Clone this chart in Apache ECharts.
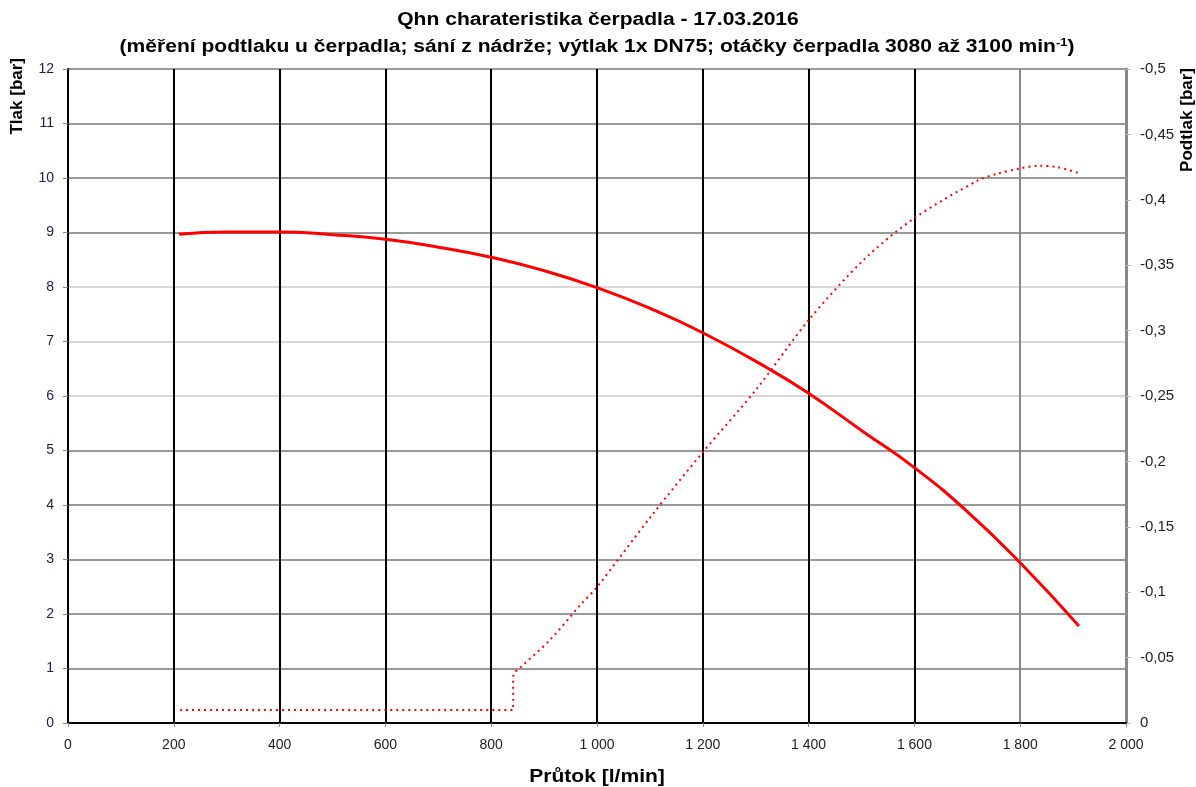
<!DOCTYPE html>
<html>
<head>
<meta charset="utf-8">
<script src="https://cdn.jsdelivr.net/npm/echarts@6/dist/echarts.min.js"></script>
<style>
  html, body { margin: 0; padding: 0; background: #fff; }
  #chart { width: 1196px; height: 787px; }
</style>
</head>
<body>
<div id="chart"></div>
<script>
// Tlak (solid) - flow [l/min] and pressure [bar]
var tlakFlow = [210, 300, 400, 500, 600, 700, 800, 900, 1000, 1100, 1200, 1323, 1400, 1504, 1600, 1700, 1800, 1911];
var tlakValues = [8.97, 9.01, 9.01, 8.96, 8.875, 8.73, 8.545, 8.30, 7.99, 7.61, 7.16, 6.51, 6.05, 5.34, 4.685, 3.88, 2.94, 1.78];

// Podtlak (dotted) - flow [l/min] and underpressure [bar]
var podtlakFlow = [212, 841, 842, 857, 911, 968, 1000, 1106, 1200, 1301, 1400, 1504, 1600, 1721, 1757, 1800, 1835, 1870, 1914];
var podtlakValues = [-0.0099, -0.0099, -0.0367, -0.043, -0.0635, -0.090, -0.104, -0.160, -0.207, -0.255, -0.308, -0.354, -0.386, -0.415, -0.420, -0.424, -0.426, -0.425, -0.420];

// split line colours (light bands at 6, 7, 8 bar like the original)
var hLineColors = ['#999', '#999', '#999', '#999', '#999', '#999', '#d8d8d8', '#d8d8d8', '#d8d8d8', '#999', '#999', '#999', '#999'];
var vLineColors = ['#000', '#000', '#000', '#000', '#000', '#000', '#000', '#000', '#000', '#888', '#888'];

var titleLine1 = 'Qhn charateristika čerpadla - 17.03.2016';
var titleLine2 = '(měření podtlaku u čerpadla; sání z nádrže; výtlak 1x DN75; otáčky čerpadla 3080 až 3100 min';

function zip(xs, ys) {
    var out = [];
    for (var i = 0; i < xs.length; i++) out.push([xs[i], ys[i]]);
    return out;
}

var font = '"Liberation Sans", Arial, sans-serif';
var myChart = echarts.init(document.getElementById('chart'));
var option = {
    backgroundColor: '#fff',
    animation: false,
    grid: { left: 68, right: 70, top: 69, bottom: 64 },
    xAxis: {
        type: 'value',
        min: 0, max: 2000, interval: 200,
        axisLine: { lineStyle: { color: '#000', width: 2 } },
        axisTick: { show: true, length: 4, lineStyle: { color: '#888' } },
        axisLabel: {
            fontFamily: font, fontSize: 14, color: '#222', margin: 15,
            formatter: function (v) { return String(v).replace(/\B(?=(\d{3})+(?!\d))/g, ' '); }
        },
        splitLine: { show: true, lineStyle: { color: vLineColors, width: 2 } }
    },
    yAxis: [
        {
            type: 'value',
            min: 0, max: 12, interval: 1,
            axisLine: { show: true, lineStyle: { color: '#000', width: 2 } },
            axisTick: { show: true, length: 5, lineStyle: { color: '#888' } },
            axisLabel: { fontFamily: font, fontSize: 14, color: '#1c1c48', margin: 14 },
            splitLine: { show: true, lineStyle: { color: hLineColors, width: 2 } }
        },
        {
            type: 'value',
            min: -0.5, max: 0, interval: 0.05,
            inverse: true,
            position: 'right',
            axisLine: { show: true, lineStyle: { color: '#888', width: 3 } },
            axisTick: { show: true, length: 5, lineStyle: { color: '#bbb' } },
            axisLabel: {
                fontFamily: font, fontSize: 15, color: '#222', margin: 14,
                formatter: function (v) {
                    var r = Math.round(v * 100) / 100;
                    return r === 0 ? '0' : String(r).replace('.', ',');
                }
            },
            splitLine: { show: false }
        }
    ],
    graphic: [
        {
            type: 'text', x: 598, y: 20, scaleX: 1.17,
            style: {
                text: titleLine1, textAlign: 'center', textVerticalAlign: 'middle',
                font: 'bold 18px "Liberation Sans", Arial, sans-serif', fill: '#000'
            }
        },
        {
            type: 'text', x: 597, y: 47, scaleX: 1.17,
            style: {
                text: '{n|' + titleLine2 + '}{sup|-1}{n|)}',
                textAlign: 'center', textVerticalAlign: 'middle',
                rich: {
                    n: { font: 'bold 18px "Liberation Sans", Arial, sans-serif', fill: '#000' },
                    sup: { font: 'bold 11px "Liberation Sans", Arial, sans-serif', fill: '#000', verticalAlign: 'top', padding: [0, 0, 8, 0] }
                }
            }
        },
        {
            type: 'text', x: 597, y: 777, scaleX: 1.17,
            style: {
                text: 'Průtok [l/min]', textAlign: 'center', textVerticalAlign: 'middle',
                font: 'bold 18px "Liberation Sans", Arial, sans-serif', fill: '#000'
            }
        },
        {
            type: 'text', left: 9, top: 58, rotation: Math.PI / 2,
            style: { text: 'Tlak [bar]', font: 'bold 17px "Liberation Sans", Arial, sans-serif', fill: '#000' }
        },
        {
            type: 'text', left: 1179, top: 68, rotation: Math.PI / 2,
            style: { text: 'Podtlak [bar]', font: 'bold 17px "Liberation Sans", Arial, sans-serif', fill: '#000' }
        }
    ],
    series: [
        {
            name: 'Tlak',
            type: 'line',
            yAxisIndex: 0,
            data: zip(tlakFlow, tlakValues),
            smooth: true,
            showSymbol: false,
            lineStyle: { color: '#ff0000', width: 3 },
            z: 5
        },
        {
            name: 'Podtlak',
            type: 'line',
            yAxisIndex: 1,
            data: zip(podtlakFlow, podtlakValues),
            smooth: 0.3,
            showSymbol: false,
            lineStyle: { color: '#ff0000', width: 2, type: [2, 4] },
            z: 4
        }
    ]
};
myChart.setOption(option, true);
</script>
</body>
</html>
